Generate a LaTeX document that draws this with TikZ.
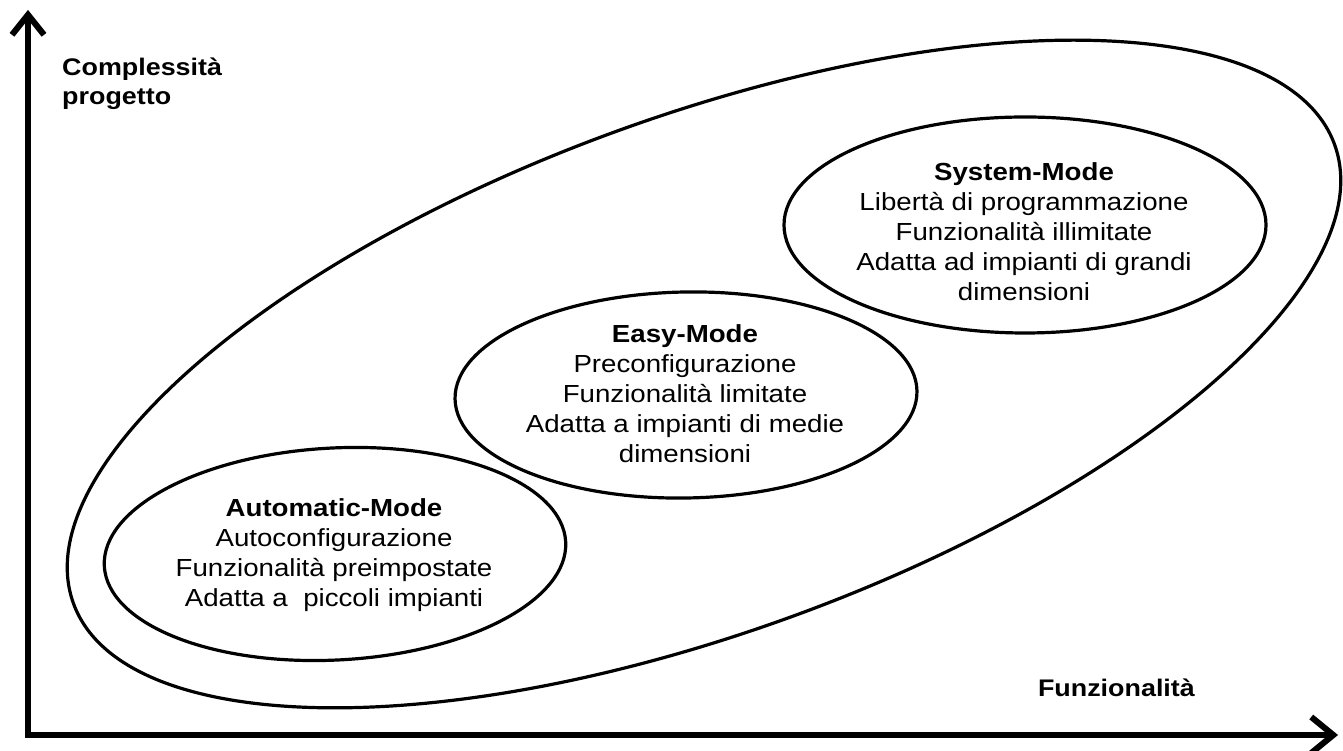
\documentclass[tikz,border=0pt]{standalone}
\usepackage{fontspec}
\setmainfont{Liberation Sans}[FakeStretch=1.12]
\usetikzlibrary{shapes.geometric,arrows.meta}

\begin{document}
\begin{tikzpicture}[x=1pt,y=1pt,
  modeshape/.style={draw=black, line width=3.2pt, ellipse, inner sep=0pt},
  modetext/.style={align=center, inner sep=0pt,
    font=\fontsize{24.7}{30}\selectfont},
  axislabel/.style={inner sep=0pt, align=left,
    font=\fontsize{24}{29}\selectfont\bfseries},
  axis/.style={line width=6pt, line join=miter,
    {Straight Barb[length=20pt,width=32pt]}-{Straight Barb[length=22pt,width=36pt]}}
]
\useasboundingbox (0,0) rectangle (1343,751);
\fill[white] (0,0) rectangle (1343,751);

% axes with a light drop shadow
\coordinate (origin) at (28,16);
\coordinate (ytop) at (28,741);
\coordinate (xend) at (1338,16);
\draw[axis, draw=black!22, shift={(3,-3)}] (ytop) -- (origin) -- (xend);
\draw[axis] (ytop) -- (origin) -- (xend);

\node[axislabel, anchor=north west] (ylab) at (62,693)
  {Complessità\\progetto};
\node[axislabel, anchor=base east] (xlab) at (1195,54) {Funzionalità};

% outer region
\node[modeshape, minimum width=1342pt, minimum height=516pt, rotate=20]
  (outer) at (704,377) {};

% the three modes
\node[modeshape, minimum width=462pt, minimum height=212pt, rotate=3]
  (automatic) at (335,197) {};
\node[modeshape, minimum width=462pt, minimum height=206pt, rotate=1]
  (easy) at (686,356) {};
\node[modeshape, minimum width=482pt, minimum height=216pt]
  (system) at (1025,526) {};

\node[modetext] (automatictext) at (334,196)
  {\textbf{Automatic-Mode}\\Autoconfigurazione\\Funzionalità preimpostate\\Adatta a\ \ piccoli impianti};
\node[modetext] (easytext) at (685,357)
  {\textbf{Easy-Mode}\\Preconfigurazione\\Funzionalità limitate\\Adatta a impianti di medie\\dimensioni};
\node[modetext] (systemtext) at (1024,519)
  {\textbf{System-Mode}\\Libertà di programmazione\\Funzionalità illimitate\\Adatta ad impianti di grandi\\dimensioni};
\end{tikzpicture}
\end{document}
